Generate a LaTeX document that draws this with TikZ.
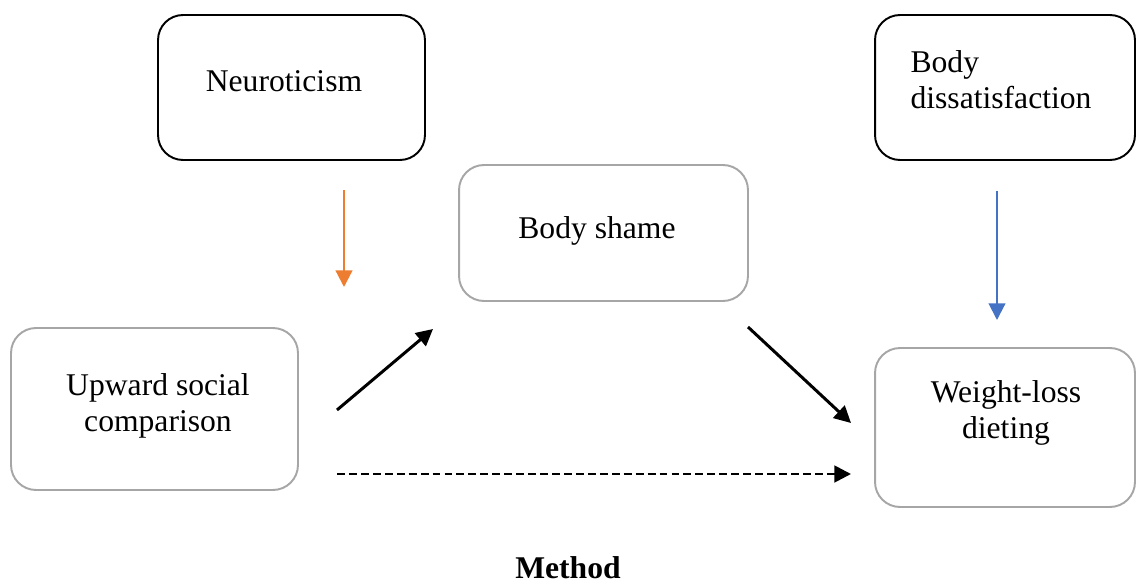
\documentclass[tikz,border=0pt]{standalone}
\usepackage{fontspec}
\setmainfont{Liberation Serif}
\usetikzlibrary{arrows.meta,positioning}
\definecolor{boxgray}{HTML}{A6A6A6}
\definecolor{arrorange}{HTML}{ED7D31}
\definecolor{arrblue}{HTML}{4472C4}
\tikzset{>={Triangle[length=9.5pt,width=9.5pt]},shorten >=0pt}

\begin{document}
\begin{tikzpicture}[x=0.02cm,y=-0.02cm,
    every node/.style={font=\fontsize{18}{20.5}\selectfont},
    darkbox/.style={draw=black,line width=1.1pt,rounded corners=0.5cm,inner sep=0pt},
    lightbox/.style={draw=boxgray,line width=1.1pt,rounded corners=0.5cm,inner sep=0pt},
    boxtext/.style={inner sep=0pt,align=center}]
    \useasboundingbox (0,0) rectangle (1136,584);

    % boxes
    \node[darkbox,minimum width=5.34cm,minimum height=2.9cm]  (neuro)  at (291.5,87.5) {};
    \node[darkbox,minimum width=5.2cm,minimum height=2.9cm]   (dissat) at (1005,87.5)  {};
    \node[lightbox,minimum width=5.78cm,minimum height=2.72cm] (shame) at (603.5,233)  {};
    \node[lightbox,minimum width=5.74cm,minimum height=3.24cm] (usc)   at (154.5,409)  {};
    \node[lightbox,minimum width=5.2cm,minimum height=3.18cm]  (wld)   at (1005,427.5) {};

    % texts
    \node[boxtext] (neurotxt)  at (284,81)   {Neuroticism};
    \node[boxtext,align=left] (dissattxt) at (1001,80) {Body\\dissatisfaction};
    \node[boxtext] (shametxt)  at (597,231)  {Body shame};
    \node[boxtext] (usctxt)    at (158,406)  {Upward social\\comparison};
    \node[boxtext] (wldtxt)    at (1006,413) {Weight-loss\\dieting};
    \node[boxtext] (method)    at (568,568)  {\textbf{Method}};

    % arrow ends
    \coordinate (neuroS) at (344,190);  \coordinate (neuroE) at (344,287);
    \coordinate (dissatS) at (997,191); \coordinate (dissatE) at (997,320);
    \coordinate (uscS) at (337,410);    \coordinate (shameE) at (433,329);
    \coordinate (shameS) at (748,327);  \coordinate (wldE) at (851,423);
    \coordinate (directS) at (337,474); \coordinate (directE) at (851,474);

    \path[->]
        (neuroS)  edge[arrorange,line width=1.3pt] (neuroE)
        (dissatS) edge[arrblue,line width=1.2pt]   (dissatE)
        (uscS)    edge[line width=1.7pt]           (shameE)
        (shameS)  edge[line width=1.7pt]           (wldE)
        (directS) edge[line width=1.6pt,dash pattern=on 4.5pt off 2.3pt] (directE)
        ;
\end{tikzpicture}
\end{document}
